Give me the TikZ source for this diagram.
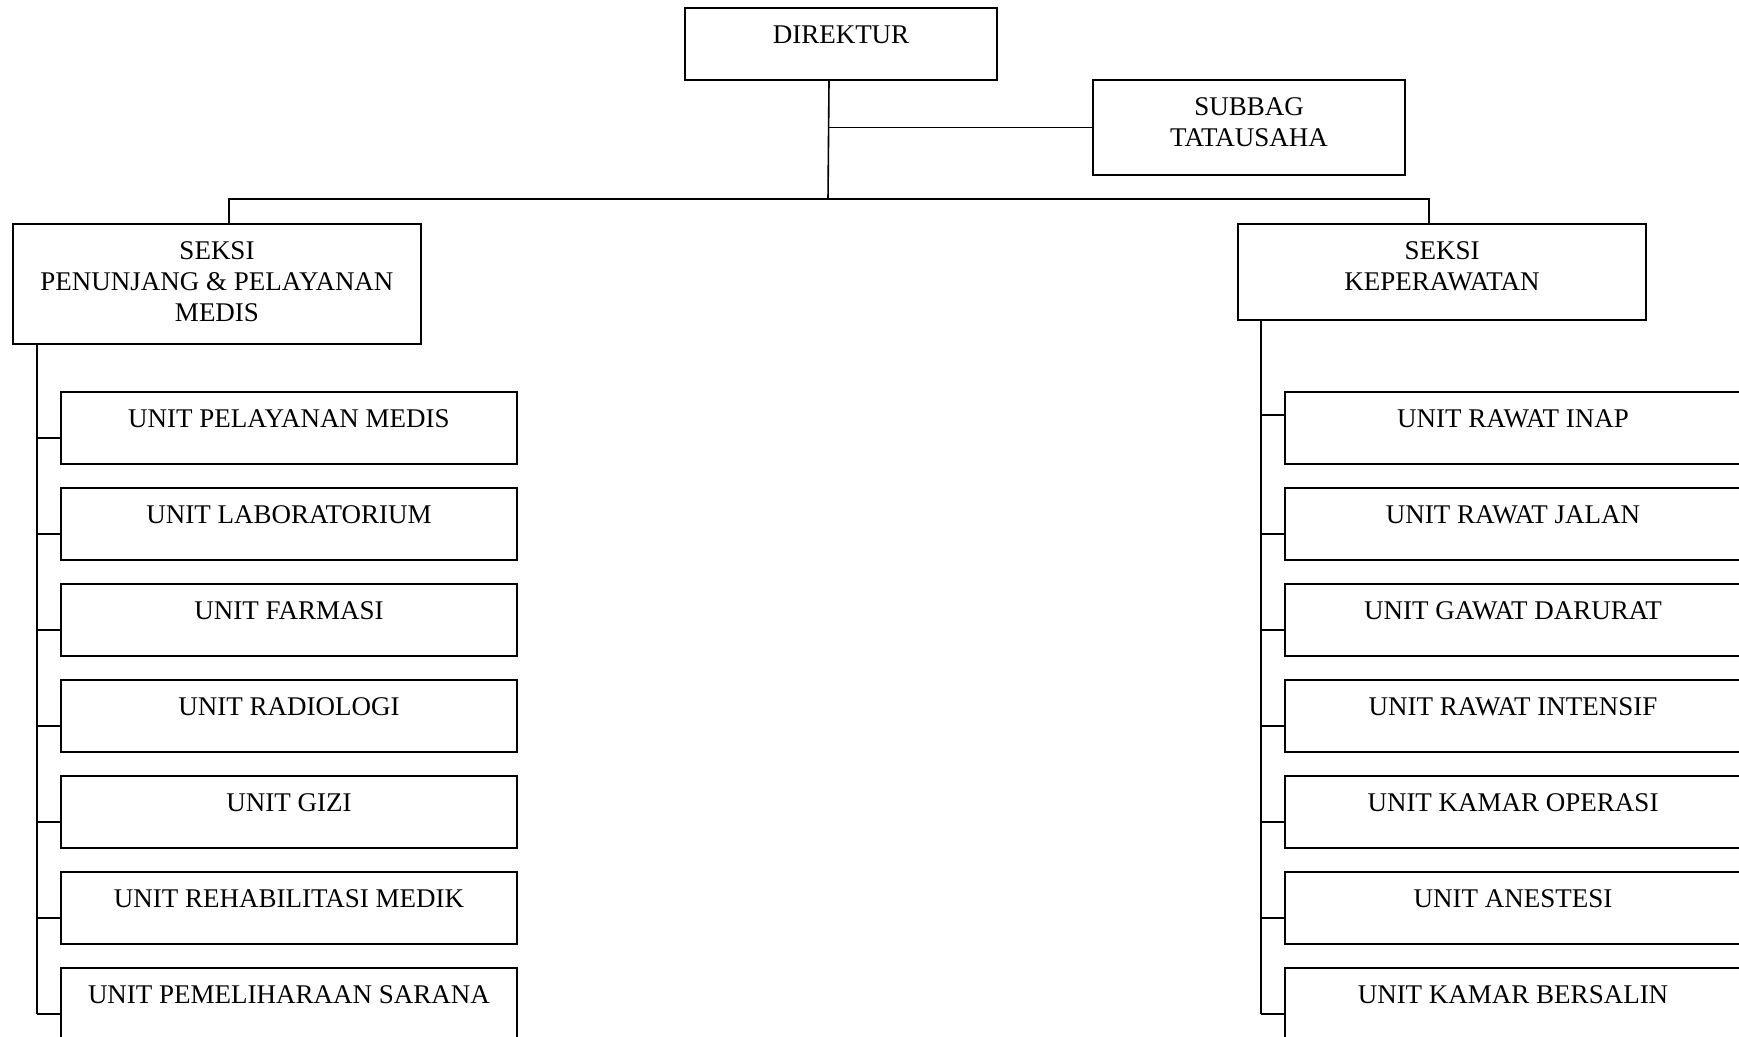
\documentclass[tikz,border=0pt]{standalone}
\usepackage{fontspec}
\setmainfont{Liberation Serif}
\usetikzlibrary{positioning}

\begin{document}
\begin{tikzpicture}[x=0.5pt, y=-0.5pt,
    kotak/.style={draw, line width=1pt, rectangle, anchor=north west, inner sep=0pt},
    unit/.style={kotak, minimum width=228pt, minimum height=36pt},
    teks/.style={anchor=north, align=center, inner sep=0pt, yshift=-9pt,
      font=\fontsize{13.5pt}{15.5pt}\selectfont},
    garis/.style={line width=0.8pt}]
    \clip (0,0) rectangle (1739,1037);

    % pimpinan
    \node[kotak, minimum width=156pt, minimum height=36pt] (dir) at (684,7) {};
    \node[teks] (tdir) at (dir.north) {DIREKTUR};
    \node[kotak, minimum width=156pt, minimum height=47.5pt] (sub) at (1092,79) {};
    \node[teks] (tsub) at (sub.north) {SUBBAG\\TATAUSAHA};

    % seksi
    \node[kotak, minimum width=204pt, minimum height=60pt] (pen) at (12,223) {};
    \node[teks] (tpen) at (pen.north) {SEKSI\\PENUNJANG \& PELAYANAN\\MEDIS};
    \node[kotak, minimum width=204pt, minimum height=48pt] (kep) at (1237,223) {};
    \node[teks] (tkep) at (kep.north) {SEKSI\\KEPERAWATAN};

    \coordinate (cabang) at (828,199);
    \draw[garis] ([xshift=-6pt]dir.south) -- (cabang);
    \draw[garis] (cabang |- sub.west) -- (sub.west);
    \draw[garis] ([xshift=6pt]pen.north) |- (cabang) -| ([xshift=-6.5pt]kep.north);

    % unit di bawah seksi penunjang
    \coordinate (spinekiri) at ([xshift=12.5pt]pen.south west);
    \foreach \i/\nama in {1/UNIT PELAYANAN MEDIS, 2/UNIT LABORATORIUM, 3/UNIT FARMASI,
        4/UNIT RADIOLOGI, 5/UNIT GIZI, 6/UNIT REHABILITASI MEDIK, 7/UNIT PEMELIHARAAN SARANA} {
        \node[unit] (ki\i) at (60,{391+96*(\i-1)}) {};
        \node[teks] (tki\i) at (ki\i.north) {\nama};
        \coordinate (cki\i) at ([yshift=-23.5pt]ki\i.north west);
        \draw[garis] (cki\i) -- (cki\i -| spinekiri);
    }
    \draw[garis] (spinekiri) -- (spinekiri |- cki7);

    % unit di bawah seksi keperawatan
    \coordinate (spinekanan) at ([xshift=12pt]kep.south west);
    \foreach \i/\nama/\d in {1/UNIT RAWAT INAP/12, 2/UNIT RAWAT JALAN/23.5, 3/UNIT GAWAT DARURAT/23.5,
        4/UNIT RAWAT INTENSIF/23.5, 5/UNIT KAMAR OPERASI/23.5, 6/UNIT ANESTESI/23.5, 7/UNIT KAMAR BERSALIN/23.5} {
        \node[unit] (ka\i) at (1284,{391+96*(\i-1)}) {};
        \node[teks] (tka\i) at (ka\i.north) {\nama};
        \coordinate (cka\i) at ([yshift=-\d pt]ka\i.north west);
        \draw[garis] (cka\i) -- (cka\i -| spinekanan);
    }
    \draw[garis] (spinekanan) -- (spinekanan |- cka7);
\end{tikzpicture}
\end{document}
